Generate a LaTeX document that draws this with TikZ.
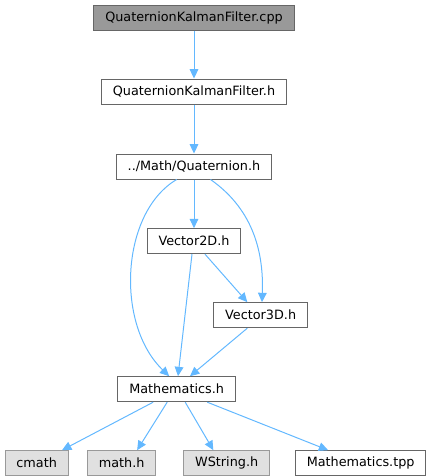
\documentclass[tikz,border=0pt]{standalone}
\usepackage{fontspec}
\setmainfont{DejaVu Sans}
\usepackage{xcolor}
\usepackage{tikz}
\usetikzlibrary{arrows.meta, positioning}
\definecolor{edgeblue}{HTML}{63B8FF}
\tikzstyle{file} = [rectangle, draw=black!60, fill=white, minimum height=18.75pt, inner xsep=8.5pt, inner ysep=0pt, line width=0.75pt, font=\fontsize{9.6}{11}\selectfont]
\tikzstyle{current} = [file, fill=black!40]
\tikzstyle{external} = [file, fill=black!12, draw=black!40]
\tikzstyle{arrow} = [draw=edgeblue, line width=0.75pt, -{Triangle[length=7pt, width=6.5pt]}]

\begin{document}
\begin{tikzpicture}[x=0.75pt, y=-0.75pt]
    \useasboundingbox (0,0) rectangle (432,476);

    % Quelle und Header
    \node (cpp) [current] at (194,17.5) {QuaternionKalmanFilter.cpp};
    \node (kfh) [file, below=36pt of cpp] {QuaternionKalmanFilter.h};
    \node (quat) [file, below=36.75pt of kfh] {../Math/Quaternion.h};

    % Vektoren
    \node (vec2) [file, below=36.5pt of quat] {Vector2D.h};
    \node (vec3) [file, below=36pt of vec2, xshift=50pt] {Vector3D.h};

    % Mathematik
    \node (mathh) [file, below=36pt of vec3, xshift=-63pt] {Mathematics.h};
    \node (cmath) [external, below=36pt of mathh, xshift=-105pt] {cmath};
    \node (mathc) [external, below=36pt of mathh, xshift=-41.25pt] {math.h};
    \node (wstr) [external, below=36pt of mathh, xshift=37.5pt] {WString.h};
    \node (tpp) [file, below=36pt of mathh, xshift=138pt] {Mathematics.tpp};

    % Pfeile
    \draw [arrow] (cpp) -- (kfh);
    \draw [arrow] (kfh) -- (quat);
    \draw [arrow] (quat) -- (vec2);
    \draw [arrow] ([xshift=-13pt]quat.south) .. controls +(-42pt,-24.75pt) and +(-40.5pt,39pt) .. ([xshift=-5.6pt]mathh.north);
    \draw [arrow] ([xshift=12.4pt]quat.south) .. controls +(30pt,-21pt) and +(1.5pt,40.5pt) .. ([xshift=1pt]vec3.north);
    \draw [arrow] ([xshift=8.25pt]vec2.south) -- ([xshift=-10pt]vec3.north);
    \draw [arrow] ([xshift=-1.5pt]vec2.south) -- ([xshift=1pt]mathh.north);
    \draw [arrow] ([xshift=-10pt]vec3.south) -- ([xshift=10pt]mathh.north);
    \draw [arrow] ([xshift=-17.6pt]mathh.south) -- ([xshift=19pt]cmath.north);
    \draw [arrow] ([xshift=-7.1pt]mathh.south) -- ([xshift=11.6pt]mathc.north);
    \draw [arrow] ([xshift=6.4pt]mathh.south) -- ([xshift=-10pt]wstr.north);
    \draw [arrow] ([xshift=22.9pt]mathh.south) -- ([xshift=-24.4pt]tpp.north);
\end{tikzpicture}
\end{document}
